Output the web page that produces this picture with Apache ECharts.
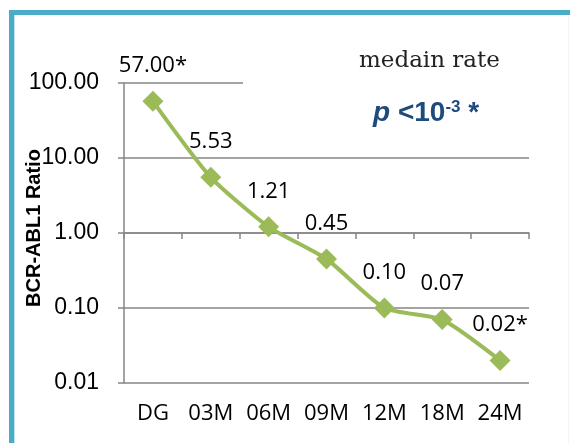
<!DOCTYPE html>
<html>
<head>
<meta charset="utf-8">
<script src="https://cdn.jsdelivr.net/npm/echarts@6/dist/echarts.min.js"></script>
<style>
html,body{margin:0;padding:0;background:#fff;}
#chart{width:570px;height:443px;}
</style>
</head>
<body>
<div id="chart"></div>
<script>
const categories = ['DG', '03M', '06M', '09M', '12M', '18M', '24M'];
const ratios = [57.00, 5.53, 1.21, 0.45, 0.10, 0.07, 0.02];
const pointLabels = ['57.00*', '5.53', '1.21', '0.45', '0.10', '0.07', '0.02*'];
const yTickLabels = ['0.01', '0.10', '1.00', '10.00', '100.00'];
const axisTitle = 'BCR-ABL1 Ratio';
const noteText = 'medain rate';

const chart = echarts.init(document.getElementById('chart'), null, {renderer: 'canvas'});
const axisGray = '#868686';
const blue = '#1f4a7c';

const option = {
  backgroundColor: '#ffffff',
  animation: false,
  grid: {left: 124, right: 41, top: 83, bottom: 60, containLabel: false, outerBoundsMode: 'none'},
  title: [
    {
      text: noteText, left: 354, top: 45,
      textStyle: {fontFamily: 'DejaVu Serif', fontSize: 23, fontWeight: 'normal', color: '#222'}
    },
    {
      text: '{p|p}{b| <10}{s|-3}{b| *}', left: 368, top: 94,
      textStyle: {
        rich: {
          p: {fontFamily: 'Liberation Sans', fontSize: 28, fontWeight: 'bold', fontStyle: 'italic', color: blue},
          b: {fontFamily: 'Liberation Sans', fontSize: 28, fontWeight: 'bold', color: blue},
          s: {fontFamily: 'Liberation Sans', fontSize: 17, fontWeight: 'bold', color: blue, verticalAlign: 'top'}
        }
      }
    }
  ],
  xAxis: [
    {
      type: 'category', data: categories, boundaryGap: true,
      axisLine: {show: false}, axisTick: {show: false},
      axisLabel: {fontFamily: 'Open Sans', fontSize: 22, color: '#000', margin: 20, interval: 0},
      splitLine: {show: false}
    },
    {
      type: 'category', data: categories, boundaryGap: true, position: 'bottom', offset: -150,
      axisLine: {show: true, lineStyle: {color: axisGray, width: 1.5}},
      axisTick: {show: true, length: 6, lineStyle: {color: axisGray, width: 1.5}, interval: 0},
      axisLabel: {show: false}, splitLine: {show: false}
    }
  ],
  yAxis: {
    type: 'log', logBase: 10, min: 0.01, max: 100,
    name: axisTitle, nameLocation: 'middle', nameGap: 80, nameMoveOverlap: false,
    nameTextStyle: {fontFamily: 'Liberation Sans', fontSize: 20, fontWeight: 'bold', color: '#000', padding: [0, 0, 0, 10]},
    axisLine: {show: true, lineStyle: {color: axisGray, width: 1.5}},
    axisTick: {show: true, length: 6, lineStyle: {color: axisGray, width: 1.5}},
    axisLabel: {
      fontFamily: 'Liberation Sans', fontSize: 23, color: '#000', margin: 25,
      formatter: function (v) {
        const i = Math.round(Math.log10(v)) + 2;
        return yTickLabels[i] !== undefined ? yTickLabels[i] : '';
      }
    },
    splitLine: {show: true, lineStyle: {color: axisGray, width: 1.5}},
    minorTick: {show: false}
  },
  series: [{
    type: 'line', xAxisIndex: 0, yAxisIndex: 0,
    data: ratios, smooth: 0.2,
    symbol: 'diamond', symbolSize: 21,
    lineStyle: {color: '#9bbb59', width: 4},
    itemStyle: {color: '#9bbb59'},
    label: {
      show: true, position: 'top', distance: 14,
      fontFamily: 'Open Sans', fontSize: 22, color: '#000',
      formatter: function (p) { return pointLabels[p.dataIndex]; }
    },
    z: 5
  }],
  graphic: [
    {type: 'rect', z: 10, shape: {x: 243, y: 74, width: 300, height: 18}, style: {fill: '#ffffff'}},
    {type: 'rect', z: 20, shape: {x: 9, y: 10, width: 561, height: 5}, style: {fill: '#4bacc6'}},
    {type: 'rect', z: 20, shape: {x: 9, y: 10, width: 5, height: 433}, style: {fill: '#4bacc6'}},
    {type: 'rect', z: 20, shape: {x: 14, y: 15, width: 1, height: 428}, style: {fill: '#bfe3ec'}},
    {type: 'rect', z: 20, shape: {x: 568, y: 15, width: 1, height: 428}, style: {fill: '#eef6f8'}}
  ]
};
chart.setOption(option);
</script>
</body>
</html>
